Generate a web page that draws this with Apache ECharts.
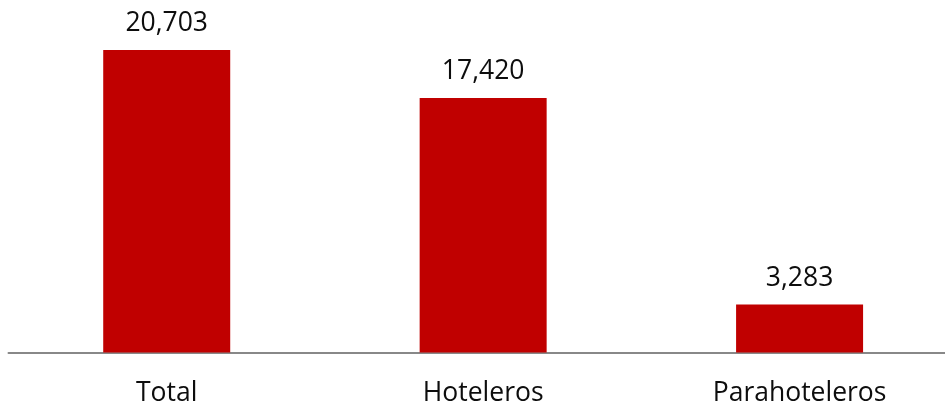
<!DOCTYPE html>
<html>
<head>
<meta charset="utf-8">
<script src="https://cdn.jsdelivr.net/npm/echarts@6/dist/echarts.min.js"></script>
<style>
html,body{margin:0;padding:0;background:#fff;}
#chart{width:945px;height:410px;}
</style>
</head>
<body>
<div id="chart"></div>
<script>
const categories = ["Total", "Hoteleros", "Parahoteleros"];
const values = [20703, 17420, 3283];

const chart = echarts.init(document.getElementById('chart'), null, {renderer: 'canvas'});
chart.setOption({
  animation: false,
  grid: {left: 8.5, width: 949.3, top: 10, height: 342.5, containLabel: false, outerBoundsMode: 'none'},
  xAxis: {
    type: 'category',
    data: categories,
    axisLine: {show: true, lineStyle: {color: '#888888', width: 2}},
    axisTick: {show: false},
    axisLabel: {
      color: '#0d0d0d',
      fontFamily: 'Open Sans',
      fontSize: 26.5,
      margin: 27
    }
  },
  yAxis: {
    type: 'value',
    min: 0,
    max: 342.5 * 68.44,
    show: false,
    splitLine: {show: false}
  },
  series: [{
    type: 'bar',
    data: values,
    barWidth: 127,
    itemStyle: {color: '#C00000'},
    label: {
      show: true,
      position: 'top',
      distance: 13,
      color: '#0d0d0d',
      fontFamily: 'Open Sans',
      fontSize: 26.5,
      formatter: p => p.value.toLocaleString('en-US')
    }
  }]
});
</script>
</body>
</html>
